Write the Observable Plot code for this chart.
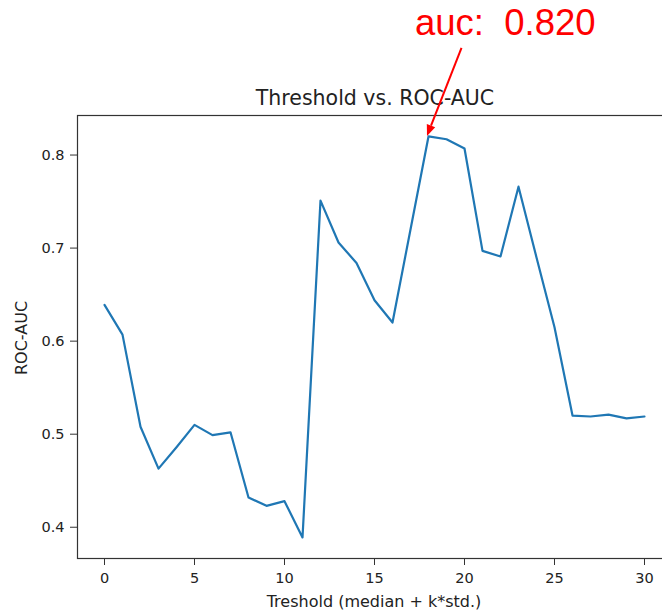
<!DOCTYPE html>
<html><head><meta charset="utf-8">
<script src="https://cdn.jsdelivr.net/npm/d3@7"></script>
<script src="https://cdn.jsdelivr.net/npm/@observablehq/plot@0.6"></script>
<style>
html,body{margin:0;padding:0;background:#fff;overflow:hidden;}
#chart{width:672px;}
#chart svg{display:block;max-width:none !important;width:672px !important;height:612px !important;}
</style></head><body><div id="chart"></div>
<script>
const thresholds = [0,1,2,3,4,5,6,7,8,9,10,11,12,13,14,15,16,17,18,19,20,21,22,23,24,25,26,27,28,29,30];
const rocAuc = [0.639,0.607,0.508,0.463,0.486,0.510,0.499,0.502,0.432,0.423,0.428,0.389,0.751,0.706,0.684,0.644,0.620,0.720,0.820,0.817,0.807,0.697,0.691,0.766,0.690,0.615,0.520,0.519,0.521,0.517,0.519];
const xTicks = [0,5,10,15,20,25,30];
const yTicks = [0.4,0.5,0.6,0.7,0.8];
const titleText = "Threshold vs. ROC-AUC";
const xLabel = "Treshold (median + k*std.)";
const yLabel = "ROC-AUC";
const annotationPrefix = "auc:  ";

const data = thresholds.map((k, i) => ({k, auc: rocAuc[i]}));

const chart = Plot.plot({
  width: 672, height: 612,
  marginLeft: 77, marginRight: 1, marginTop: 115, marginBottom: 54,
  style: {fontFamily: "DejaVu Sans", fontSize: "14.5px", color: "#222", background: "white", overflow: "visible"},
  x: {domain: [-1.5, 31.5]},
  y: {domain: [0.3664, 0.8425]},
  marks: [
    Plot.axisX({ticks: xTicks, tickSize: 7, tickPadding: 7, label: null, tickFormat: d3.format("d"), fontSize: 14.5, stroke: "#333"}),
    Plot.axisY({ticks: yTicks, tickSize: 7, tickPadding: 6, label: null, tickFormat: d3.format(".1f"), fontSize: 14.5, stroke: "#333"}),
    Plot.frame({stroke: "#333", strokeWidth: 1.2}),
    Plot.line(data, {x: "k", y: "auc", stroke: "#1f77b4", strokeWidth: 2.2})
  ]
});
document.getElementById("chart").appendChild(chart);

const svg = d3.select(chart);
const sx = chart.scale("x"), sy = chart.scale("y");
const cx = (sx.range[0] + sx.range[1]) / 2;
const plotTop = Math.min(...sy.range), plotBottom = Math.max(...sy.range);

svg.append("text").text(titleText)
  .attr("x", cx + 1).attr("y", plotTop - 10)
  .attr("text-anchor", "middle").attr("font-family", "DejaVu Sans").attr("font-size", 20.5).attr("fill", "#222");

svg.append("text").text(xLabel)
  .attr("x", cx).attr("y", plotBottom + 48.5)
  .attr("text-anchor", "middle").attr("font-family", "DejaVu Sans").attr("font-size", 16).attr("fill", "#222");

svg.append("text").text(yLabel)
  .attr("transform", `translate(27,${(plotTop + plotBottom) / 2 + 1.5}) rotate(-90)`)
  .attr("text-anchor", "middle").attr("font-family", "DejaVu Sans").attr("font-size", 16).attr("fill", "#222");

// annotation of maximum
const iMax = d3.maxIndex(rocAuc);
const px = sx.apply(thresholds[iMax]), py = sy.apply(rocAuc[iMax]);
svg.append("text").text(annotationPrefix + d3.format(".3f")(rocAuc[iMax]))
  .attr("xml:space", "preserve").style("white-space", "pre")
  .attr("x", px - 13).attr("y", py - 101).attr("text-anchor", "start")
  .attr("font-family", "Liberation Sans, Arial, sans-serif").attr("font-size", 36.5).attr("fill", "#ff0000");

const tail = [px + 33.5, py - 88], tip = [px - 1, py];
const dxv = tip[0] - tail[0], dyv = tip[1] - tail[1], len = Math.hypot(dxv, dyv);
const ux = dxv / len, uy = dyv / len, nx = -uy, ny = ux;
const hl = 11, hw = 4.5;
const base = [tip[0] - ux * hl, tip[1] - uy * hl];
svg.append("line").attr("x1", tail[0]).attr("y1", tail[1]).attr("x2", base[0]).attr("y2", base[1])
  .attr("stroke", "#ff0000").attr("stroke-width", 2);
svg.append("polygon")
  .attr("points", [tip, [base[0] + nx * hw, base[1] + ny * hw], [base[0] - nx * hw, base[1] - ny * hw]].map(p => p.join(",")).join(" "))
  .attr("fill", "#ff0000");
</script>
</body></html>
